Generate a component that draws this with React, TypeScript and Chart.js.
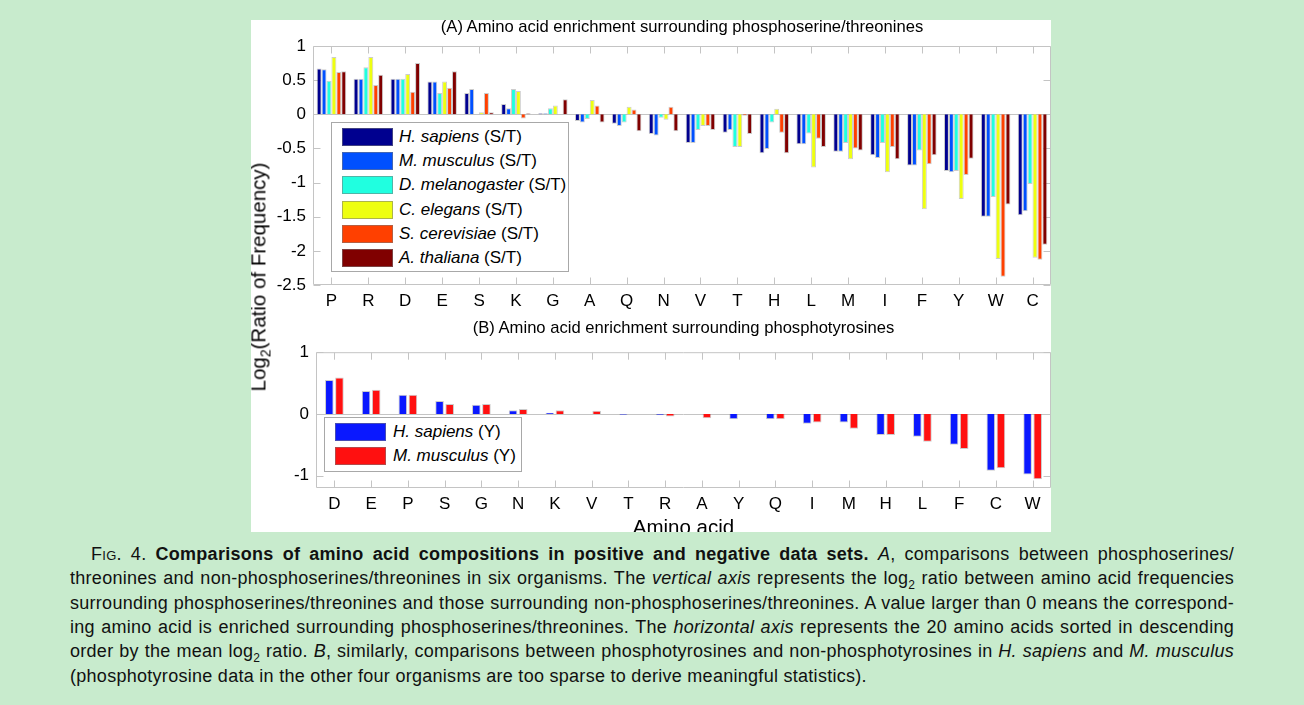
import React, { useEffect, useRef } from "react";
import { Chart, registerables } from "chart.js";

Chart.register(...registerables);

// ---------- DATA ----------
const aminoAcidsA = ["P", "R", "D", "E", "S", "K", "G", "A", "Q", "N", "V", "T", "H", "L", "M", "I", "F", "Y", "W", "C"];
const yTicksA = [1, 0.5, 0, -0.5, -1, -1.5, -2, -2.5];
const hSapiensST = [0.67, 0.52, 0.52, 0.48, 0.31, 0.15, 0.015, -0.10, -0.14, -0.29, -0.42, -0.27, -0.57, -0.44, -0.55, -0.60, -0.75, -0.83, -1.50, -1.48];
const mMusculusST = [0.66, 0.52, 0.52, 0.48, 0.37, 0.09, 0.015, -0.12, -0.17, -0.31, -0.42, -0.23, -0.51, -0.44, -0.55, -0.64, -0.75, -0.85, -1.50, -1.42];
const dMelanogasterST = [0.49, 0.69, 0.52, 0.31, 0, 0.37, 0.09, -0.07, -0.12, -0.05, -0.23, -0.48, -0.12, -0.28, -0.42, -0.42, -0.53, -0.83, -1.21, -1.02];
const cElegansST = [0.84, 0.84, 0.59, 0.48, 0.03, 0.34, 0.13, 0.21, 0.11, -0.08, -0.17, -0.48, 0.08, -0.78, -0.66, -0.85, -1.39, -1.24, -2.12, -2.10];
const sCerevisiaeST = [0.62, 0.43, 0.33, 0.39, 0.31, -0.06, 0, 0.13, 0.07, 0.11, -0.17, -0.02, -0.27, -0.36, -0.50, -0.48, -0.73, -0.89, -2.38, -2.13];
const aThalianaST = [0.63, 0.58, 0.75, 0.63, 0.03, 0.015, 0.22, -0.12, -0.25, -0.25, -0.23, -0.29, -0.57, -0.48, -0.53, -0.66, -0.60, -0.65, -1.32, -1.91];
const speciesA = ["H. sapiens", "M. musculus", "D. melanogaster", "C. elegans", "S. cerevisiae", "A. thaliana"];
const colorsA = ["#00008f", "#0050ff", "#20ffe0", "#eeff10", "#ff4000", "#800000"];

const aminoAcidsB = ["D", "E", "P", "S", "G", "N", "K", "V", "T", "R", "A", "Y", "Q", "I", "M", "H", "L", "F", "C", "W"];
const yTicksB = [1, 0, -1];
const hSapiensY = [0.55, 0.37, 0.31, 0.21, 0.15, 0.06, 0.02, 0, -0.015, -0.02, 0, -0.085, -0.085, -0.16, -0.14, -0.34, -0.37, -0.50, -0.92, -0.98];
const mMusculusY = [0.59, 0.39, 0.31, 0.16, 0.16, 0.08, 0.06, 0.05, 0, -0.04, -0.07, 0, -0.085, -0.14, -0.24, -0.34, -0.45, -0.57, -0.88, -1.06];
const speciesB = ["H. sapiens", "M. musculus"];
const colorsB = ["#0a18ff", "#ff1010"];

const FONT = "'Liberation Sans', Arial, Helvetica, sans-serif";
const AXIS_GRAY = "#c4c4c4";

const boxPlugin = {
  id: "matlabBox",
  beforeDatasetsDraw(chart: any) {
    const { ctx, chartArea: a, scales } = chart;
    const x = scales.x;
    const y = scales.y;
    ctx.save();
    ctx.strokeStyle = AXIS_GRAY;
    ctx.lineWidth = 1;
    ctx.beginPath();
    const L = a.left + 0.5, R = a.right - 0.5, T = a.top + 0.5, B = a.bottom - 0.5;
    ctx.rect(L, T, R - L, B - T);
    x.ticks.forEach((_: any, i: number) => {
      const px = Math.round(x.getPixelForTick(i)) + 0.5;
      ctx.moveTo(px, B);
      ctx.lineTo(px, B - 7);
      ctx.moveTo(px, T);
      ctx.lineTo(px, T + 7);
    });
    y.ticks.forEach((t: any) => {
      const py = Math.round(y.getPixelForValue(t.value)) + 0.5;
      ctx.moveTo(L, py);
      ctx.lineTo(L + 7, py);
      ctx.moveTo(R, py);
      ctx.lineTo(R - 7, py);
    });
    const z = Math.round(y.getPixelForValue(0)) + 0.5;
    ctx.moveTo(L, z);
    ctx.lineTo(R, z);
    ctx.stroke();
    ctx.restore();
  },
};

type ChartProps = {
  labels: string[];
  series: number[][];
  colors: string[];
  yTicks: number[];
  min: number;
  max: number;
  width: number;
  height: number;
  padTop: number;
  yWidth: number;
  xHeight: number;
  catPct: number;
  barPct: number;
  style: React.CSSProperties;
};

function BarChart(p: ChartProps) {
  const ref = useRef<HTMLCanvasElement | null>(null);
  useEffect(() => {
    if (!ref.current) return;
    const tickFont = { family: FONT, size: 17 };
    const chart = new Chart(ref.current, {
      type: "bar",
      data: {
        labels: p.labels,
        datasets: p.series.map((s, i) => ({
          data: s,
          backgroundColor: p.colors[i],
          borderColor: "rgba(110,110,110,0.35)",
          borderWidth: 1,
          categoryPercentage: p.catPct,
          barPercentage: p.barPct,
        })),
      },
      options: {
        responsive: false,
        animation: false,
        layout: { padding: { top: p.padTop, right: 0, left: 0, bottom: 0 } },
        plugins: { legend: { display: false }, tooltip: { enabled: false }, title: { display: false } },
        scales: {
          x: {
            grid: { display: false, drawTicks: false },
            border: { display: false },
            ticks: { padding: 6, font: tickFont, color: "#000", autoSkip: false, maxRotation: 0 },
            afterFit: (s: any) => {
              s.height = p.xHeight;
            },
          },
          y: {
            min: p.min,
            max: p.max,
            grid: { display: false, drawTicks: false },
            border: { display: false },
            afterBuildTicks: (s: any) => {
              s.ticks = p.yTicks.map((v) => ({ value: v }));
            },
            ticks: { padding: 7, font: tickFont, color: "#000", callback: (v: any) => String(v) },
            afterFit: (s: any) => {
              s.width = p.yWidth;
            },
          },
        },
      },
      plugins: [boxPlugin],
    } as any);
    return () => chart.destroy();
  }, []);
  return (
    <canvas
      ref={ref}
      width={p.width}
      height={p.height}
      style={{ position: "absolute", width: p.width, height: p.height, ...p.style }}
    />
  );
}

function Legend({ species, colors, suffix, left, top, width, height, textLeft }: any) {
  return (
    <div
      style={{
        position: "absolute",
        left,
        top,
        width,
        height,
        boxSizing: "border-box",
        border: "1px solid #a8a8a8",
        background: "#fff",
      }}
    >
      {species.map((s: string, i: number) => (
        <React.Fragment key={s}>
          <div
            style={{
              position: "absolute",
              left: 10,
              top: 5 + i * 24.2,
              width: 51,
              height: 18,
              boxSizing: "border-box",
              background: colors[i],
              border: "1px solid rgba(120,120,120,0.55)",
            }}
          />
          <div
            style={{
              position: "absolute",
              left: textLeft,
              top: 5 + i * 24.2,
              lineHeight: "18px",
              fontSize: 17,
              whiteSpace: "nowrap",
              color: "#000",
            }}
          >
            <i>{s}</i> {suffix}
          </div>
        </React.Fragment>
      ))}
    </div>
  );
}

const lineStyle: React.CSSProperties = {
  position: "absolute",
  left: 70,
  width: 1164,
  textAlign: "justify",
  textAlignLast: "justify" as any,
  fontSize: 18,
  letterSpacing: "0.28px",
  lineHeight: "24px",
  whiteSpace: "nowrap",
  color: "#111",
};

export default function App() {
  const captionTop = 542;
  const step = 24.3;
  return (
    <div
      style={{
        position: "fixed",
        inset: 0,
        background: "#c8ebcd",
        fontFamily: FONT,
        overflow: "hidden",
      }}
    >
      <div
        style={{
          position: "absolute",
          left: 251,
          top: 20,
          width: 800,
          height: 512,
          background: "#fff",
          overflow: "hidden",
        }}
      >
        <BarChart
          labels={aminoAcidsA}
          series={[hSapiensST, mMusculusST, dMelanogasterST, cElegansST, sCerevisiaeST, aThalianaST]}
          colors={colorsA}
          yTicks={yTicksA}
          min={-2.5}
          max={1}
          width={800}
          height={300}
          padTop={26}
          yWidth={62}
          xHeight={35}
          catPct={0.8}
          barPct={1}
          style={{ left: 0, top: 0 }}
        />
        <BarChart
          labels={aminoAcidsB}
          series={[hSapiensY, mMusculusY]}
          colors={colorsB}
          yTicks={yTicksB}
          min={-1.2}
          max={1}
          width={800}
          height={197}
          padTop={14}
          yWidth={65}
          xHeight={44}
          catPct={0.55}
          barPct={0.85}
          style={{ left: 0, top: 315 }}
        />
        <div
          style={{
            position: "absolute",
            left: 62,
            width: 738,
            top: -2,
            textAlign: "center",
            fontSize: 16.6,
            lineHeight: "17px",
            whiteSpace: "nowrap",
          }}
        >
          (A) Amino acid enrichment surrounding phosphoserine/threonines
        </div>
        <div
          style={{
            position: "absolute",
            left: 65,
            width: 735,
            top: 299,
            textAlign: "center",
            fontSize: 16.6,
            lineHeight: "17px",
            whiteSpace: "nowrap",
          }}
        >
          (B) Amino acid enrichment surrounding phosphotyrosines
        </div>
        <div
          style={{
            position: "absolute",
            left: 11,
            top: 257,
            transform: "translate(-50%, -50%) rotate(-90deg)",
            fontSize: 20.5,
            lineHeight: "22px",
            whiteSpace: "nowrap",
          }}
        >
          Log<sub style={{ fontSize: 14 }}>2</sub>(Ratio of Frequency)
        </div>
        <div
          style={{
            position: "absolute",
            left: 65,
            width: 735,
            top: 497,
            textAlign: "center",
            fontSize: 20.5,
            lineHeight: "20.5px",
            whiteSpace: "nowrap",
          }}
        >
          Amino acid
        </div>
        <Legend
          species={speciesA}
          colors={colorsA}
          suffix="(S/T)"
          left={80}
          top={102}
          width={238}
          height={150}
          textLeft={67}
        />
        <Legend
          species={speciesB}
          colors={colorsB}
          suffix="(Y)"
          left={73}
          top={397}
          width={198}
          height={55}
          textLeft={68}
        />
      </div>
      <div style={{ ...lineStyle, left: 91, width: 1143, top: captionTop }}>
        <span style={{ fontVariant: "small-caps" }}>Fig. 4.</span>{" "}
        <b>Comparisons of amino acid compositions in positive and negative data sets.</b> <i>A</i>, comparisons between
        phosphoserines/
      </div>
      <div style={{ ...lineStyle, top: captionTop + step }}>
        threonines and non-phosphoserines/threonines in six organisms. The <i>vertical axis</i> represents the log
        <sub style={{ fontSize: 12 }}>2</sub> ratio between amino acid frequencies
      </div>
      <div style={{ ...lineStyle, top: captionTop + step * 2 }}>
        surrounding phosphoserines/threonines and those surrounding non-phosphoserines/threonines. A value larger than 0
        means the correspond-
      </div>
      <div style={{ ...lineStyle, top: captionTop + step * 3 }}>
        ing amino acid is enriched surrounding phosphoserines/threonines. The <i>horizontal axis</i> represents the 20
        amino acids sorted in descending
      </div>
      <div style={{ ...lineStyle, top: captionTop + step * 4 }}>
        order by the mean log<sub style={{ fontSize: 12 }}>2</sub> ratio. <i>B</i>, similarly, comparisons between
        phosphotyrosines and non-phosphotyrosines in <i>H. sapiens</i> and <i>M. musculus</i>
      </div>
      <div style={{ ...lineStyle, top: captionTop + step * 5, textAlign: "left", textAlignLast: "left" as any }}>
        (phosphotyrosine data in the other four organisms are too sparse to derive meaningful statistics).
      </div>
    </div>
  );
}
